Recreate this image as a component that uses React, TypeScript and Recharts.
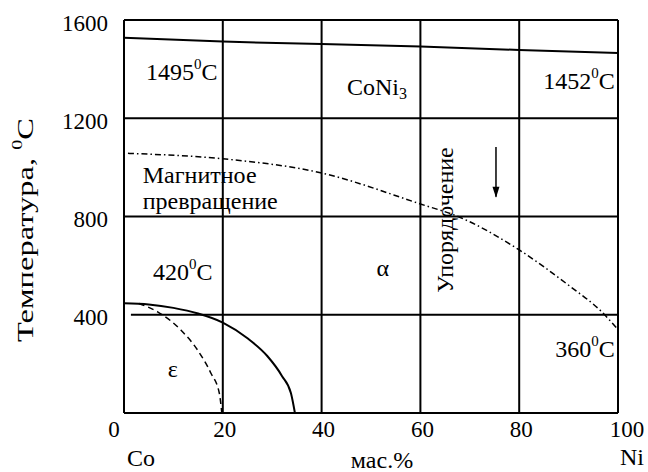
import React from 'react'
import {
  ComposedChart,
  Line,
  ReferenceDot,
  ReferenceLine,
  XAxis,
  YAxis,
} from 'recharts'

const FONT = 'Liberation Serif, DejaVu Serif, serif'

// composition, mass % Ni
const xTicks = [0, 20, 40, 60, 80, 100]
const yTicks = [400, 800, 1200, 1600]
const gridX = [20, 40, 60, 80]
const gridY = [800, 1200]

// liquidus / solidus (almost straight)
const liquidus = [
  { x: 0, y: 1528 },
  { x: 20, y: 1512 },
  { x: 40, y: 1502 },
  { x: 60, y: 1492 },
  { x: 80, y: 1478 },
  { x: 100, y: 1466 },
]

// magnetic transformation (Curie line)
const magnetic = [
  { x: 0.8, y: 1057 },
  { x: 20, y: 1035 },
  { x: 40, y: 977 },
  { x: 60, y: 851 },
  { x: 67.6, y: 800 },
  { x: 80, y: 664 },
  { x: 90, y: 520 },
  { x: 96.7, y: 412 },
  { x: 100, y: 340 },
]

// ε -> α on heating
const epsSolid = [
  { x: 0, y: 447 },
  { x: 5, y: 442 },
  { x: 10, y: 428 },
  { x: 15, y: 405 },
  { x: 20, y: 368 },
  { x: 25, y: 304 },
  { x: 29, y: 232 },
  { x: 32, y: 150 },
  { x: 33.8, y: 80 },
  { x: 34.6, y: 0 },
]

// α -> ε on cooling
const epsDashed = [
  { x: 3, y: 446 },
  { x: 6.8, y: 412 },
  { x: 11.5, y: 338 },
  { x: 14.9, y: 256 },
  { x: 17.6, y: 162 },
  { x: 19.3, y: 80 },
  { x: 19.8, y: 0 },
]

const arrow = [
  { x: 75.3, y: 1083 },
  { x: 75.3, y: 880 },
]

const line400 = [
  { x: 1.4, y: 400 },
  { x: 100, y: 400 },
]

const tempLabels = [
  { x: 11.7, y: 1388, value: '1495' },
  { x: 92.1, y: 1352, value: '1452' },
  { x: 11.9, y: 574, value: '420' },
  { x: 93.3, y: 261, value: '360' },
]

const phaseLabels = [
  { x: 52.4, y: 590, text: 'α' },
  { x: 9.9, y: 179, text: 'ε' },
]

const magLabel = [
  { x: 3.8, y: 969, text: 'Магнитное' },
  { x: 3.8, y: 863, text: 'превращение' },
]

const orderLabel = { x: 65, y: 786, text: 'Упорядочение' }
const coni3 = { x: 51.2, y: 1327 }

const textStyle = { fontFamily: FONT, fontSize: 24, fill: '#000' }
const tickStyle = { fontFamily: FONT, fontSize: 23, fill: '#000' }

function XTick({ x, y, payload }: any) {
  // end labels sit a little outside the frame in the original
  const dx = payload.value === 0 ? -10 : payload.value === 100 ? 9 : 2
  return (
    <text x={x + dx} y={y + 8} textAnchor="middle" dominantBaseline="central" fontFamily={FONT} style={tickStyle}>
      {payload.value}
    </text>
  )
}

function YTick({ x, y, payload }: any) {
  return (
    <text x={x - 8} y={y + 3} textAnchor="end" dominantBaseline="central" fontFamily={FONT} style={tickStyle}>
      {payload.value}
    </text>
  )
}

function Deg({ cx, cy, value }: any) {
  return (
    <text x={cx} y={cy} textAnchor="middle" dominantBaseline="central" fontFamily={FONT} style={textStyle}>
      {value}
      <tspan dy={-8} fontSize={15}>0</tspan>
      <tspan dy={8}>C</tspan>
    </text>
  )
}

function ArrowHead(props: any) {
  const { cx, cy, index } = props
  if (index !== arrow.length - 1) return <g key={index} />
  return <polygon key={index} points={`${cx - 3.5},${cy - 10} ${cx + 3.5},${cy - 10} ${cx},${cy + 1}`} fill="#000" />
}

export default function App() {
  return (
    <div style={{ position: 'absolute', left: 0, top: 0, background: '#fff' }}>
      <ComposedChart width={648} height={472} margin={{ top: 20, right: 30, bottom: 0, left: 0 }}>
        <XAxis
          dataKey="x"
          type="number"
          domain={[0, 100]}
          ticks={xTicks}
          axisLine={false}
          tickLine={false}
          height={59}
          tick={<XTick />}
          interval={0}
          label={() => (
            <g>
              <text x={127} y={466} fontFamily={FONT} style={textStyle}>Co</text>
              <text x={382} y={468} textAnchor="middle" fontFamily={FONT} style={textStyle}>мас.%</text>
              <text x={620} y={465} fontFamily={FONT} style={textStyle}>Ni</text>
            </g>
          )}
        />
        <YAxis
          dataKey="y"
          type="number"
          domain={[0, 1600]}
          ticks={yTicks}
          axisLine={false}
          tickLine={false}
          width={124}
          tick={<YTick />}
          interval={0}
          label={() => {
            const cx = 25
            const cy = 230
            return (
              <text
                x={cx}
                y={cy}
                transform={`rotate(-90 ${cx} ${cy})`}
                textAnchor="middle"
                dominantBaseline="central"
                textLength={224}
                lengthAdjust="spacingAndGlyphs"
                fontFamily={FONT}
                style={textStyle}
              >
                Температура, <tspan dy={-8} fontSize={15}>0</tspan>
                <tspan dy={8}>C</tspan>
              </text>
            )
          }}
        />

        {gridX.map((v) => (
          <ReferenceLine key={'gx' + v} x={v} stroke="#000" strokeWidth={2} />
        ))}
        {gridY.map((v) => (
          <ReferenceLine key={'gy' + v} y={v} stroke="#000" strokeWidth={2} />
        ))}
        <ReferenceLine segment={line400} stroke="#000" strokeWidth={2} />
        <ReferenceLine x={0} stroke="#000" strokeWidth={2} />
        <ReferenceLine x={100} stroke="#000" strokeWidth={2} />
        <ReferenceLine y={0} stroke="#000" strokeWidth={2} />
        <ReferenceLine y={1600} stroke="#000" strokeWidth={2} />

        <Line data={liquidus} dataKey="y" type="linear" stroke="#000" strokeWidth={2} dot={false} isAnimationActive={false} />
        <Line
          data={magnetic}
          dataKey="y"
          type="monotone"
          stroke="#000"
          strokeWidth={1.5}
          strokeDasharray="6 3 1.5 3"
          dot={false}
          isAnimationActive={false}
        />
        <Line data={epsSolid} dataKey="y" type="monotone" stroke="#000" strokeWidth={2} dot={false} isAnimationActive={false} />
        <Line
          data={epsDashed}
          dataKey="y"
          type="monotone"
          stroke="#000"
          strokeWidth={1.5}
          strokeDasharray="6 4"
          dot={false}
          isAnimationActive={false}
        />
        <Line data={arrow} dataKey="y" type="linear" stroke="#000" strokeWidth={1.5} dot={ArrowHead} isAnimationActive={false} />

        {tempLabels.map((d) => (
          <ReferenceDot key={d.value} x={d.x} y={d.y} r={0} shape={(p: any) => <Deg {...p} value={d.value} />} />
        ))}
        {phaseLabels.map((d) => (
          <ReferenceDot
            key={d.text}
            x={d.x}
            y={d.y}
            r={0}
            shape={(p: any) => (
              <text x={p.cx} y={p.cy} textAnchor="middle" dominantBaseline="central" fontFamily={FONT} style={textStyle}>
                {d.text}
              </text>
            )}
          />
        ))}
        {magLabel.map((d) => (
          <ReferenceDot
            key={d.text}
            x={d.x}
            y={d.y}
            r={0}
            shape={(p: any) => (
              <text x={p.cx} y={p.cy} dominantBaseline="central" fontFamily={FONT} style={textStyle}>
                {d.text}
              </text>
            )}
          />
        ))}
        <ReferenceDot
          x={coni3.x}
          y={coni3.y}
          r={0}
          shape={(p: any) => (
            <text x={p.cx} y={p.cy} textAnchor="middle" dominantBaseline="central" fontFamily={FONT} style={textStyle}>
              CoNi<tspan dy={6} fontSize={16}>3</tspan>
            </text>
          )}
        />
        <ReferenceDot
          x={orderLabel.x}
          y={orderLabel.y}
          r={0}
          shape={(p: any) => (
            <text
              x={p.cx}
              y={p.cy}
              transform={`rotate(-90 ${p.cx} ${p.cy})`}
              textAnchor="middle"
              dominantBaseline="central"
              fontFamily={FONT}
              style={textStyle}
            >
              {orderLabel.text}
            </text>
          )}
        />
      </ComposedChart>
    </div>
  )
}
